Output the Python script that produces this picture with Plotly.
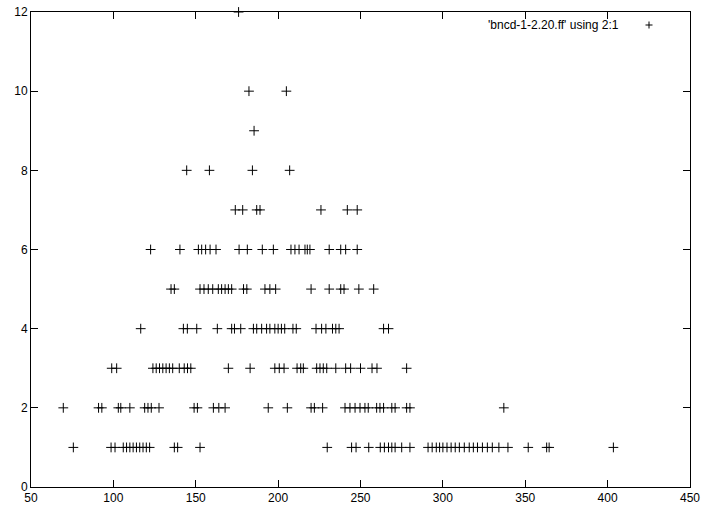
import plotly.graph_objects as go

# x values (column 2) grouped by y value (column 1)
x_at_1 = [75.7, 98.6, 101, 106, 108, 110, 112, 114, 116, 118, 120, 122, 137, 139, 152.6,
          229.8, 244.6, 247.3, 255, 262, 264.5, 267, 269, 271, 275, 280,
          291, 293.5, 296, 298, 300, 302.5, 305, 307.5, 310, 313, 316, 318.5, 321, 324,
          327, 330, 334, 339.5, 351.8, 363, 364.5, 403.5]
x_at_2 = [69.6, 91, 93, 103, 104.5, 110, 119, 121, 123, 127.7, 149, 151, 160.7, 164, 167.8,
          194, 205.6, 220, 222, 227, 240.6, 243.6, 246.7, 249.7, 252.7, 254.7, 259.8, 261.8,
          264, 269, 271, 278, 280, 337]
x_at_3 = [99, 102, 124, 126, 128, 130, 132, 134, 136, 140, 143, 145, 147, 169.8, 183,
          198, 200.7, 203.6, 211.5, 213.7, 215.3, 223.4, 225.4, 227.4, 229.5, 235, 241,
          244, 250, 257, 260, 278]
x_at_4 = [116.6, 142.5, 144.9, 150.6, 163.1, 171.8, 173.5, 177.3, 185, 187, 190, 193, 195,
          198, 200, 202, 204, 209, 211, 223, 226.4, 229, 233, 235, 237, 264, 267]
x_at_5 = [135, 137, 152.6, 155, 157.6, 160.3, 163.7, 165.7, 167.8, 169.8, 171.8, 179, 181,
          192, 195, 198.5, 220, 231, 238, 240, 249, 258]
x_at_6 = [122.6, 140.4, 151.6, 153.6, 156, 158.7, 162.3, 176.3, 181.3, 190.4, 197.1, 207.8,
          210.2, 212.7, 216.3, 217.7, 219.3, 231, 238, 241, 248]
x_at_7 = [174, 178.5, 187, 189, 226, 242, 248]
x_at_8 = [144.5, 158.3, 184.4, 207]
x_at_9 = [185.4]
x_at_10 = [182.3, 205]
x_at_12 = [176]

groups = {1: x_at_1, 2: x_at_2, 3: x_at_3, 4: x_at_4, 5: x_at_5, 6: x_at_6,
          7: x_at_7, 8: x_at_8, 9: x_at_9, 10: x_at_10, 12: x_at_12}

xs, ys = [], []
for yv, xl in groups.items():
    for xv in xl:
        xs.append(xv)
        ys.append(yv)

x_ticks = [50, 100, 150, 200, 250, 300, 350, 400, 450]
y_ticks = [0, 2, 4, 6, 8, 10, 12]
legend_label = "'bncd-1-2.20.ff' using 2:1"

fig = go.Figure()
fig.add_trace(go.Scatter(
    x=xs, y=ys, mode="markers", cliponaxis=False, showlegend=False,
    marker=dict(symbol="cross-thin", size=7, color="black",
                line=dict(width=1, color="black")),
))

L, R, T, B = 31, 12, 12, 20
W, H = 702, 507
pw, ph = W - L - R, H - T - B

# legend text + sample, gnuplot style
lx = (649 - L) / pw
ly = (H - B - 25) / ph
fig.add_annotation(x=(621 - L) / pw, y=ly, xref="paper", yref="paper",
                   text=legend_label, showarrow=False, xanchor="right", yanchor="middle",
                   font=dict(family="Liberation Sans, Arial", size=12, color="black"))
fig.add_shape(type="line", xref="paper", yref="paper", xsizemode="pixel", ysizemode="pixel",
              xanchor=lx, yanchor=ly, x0=-3.5, x1=3.5, y0=0, y1=0,
              line=dict(color="black", width=1))
fig.add_shape(type="line", xref="paper", yref="paper", xsizemode="pixel", ysizemode="pixel",
              xanchor=lx, yanchor=ly, x0=0, x1=0, y0=-3.5, y1=3.5,
              line=dict(color="black", width=1))

axis_common = dict(showgrid=False, zeroline=False, showline=True, linecolor="black",
                   linewidth=1, mirror="allticks", ticks="inside", ticklen=7,
                   tickcolor="black", tickwidth=1, automargin=False,
                   tickfont=dict(family="Liberation Sans, Arial", size=12, color="black"))

fig.update_layout(
    width=W, height=H,
    margin=dict(l=L, r=R, t=T, b=B, pad=0, autoexpand=False),
    paper_bgcolor="white", plot_bgcolor="white",
    xaxis=dict(range=[50, 450], tickvals=x_ticks, ticktext=[str(v) for v in x_ticks],
               **axis_common),
    yaxis=dict(range=[0, 12], tickvals=y_ticks, ticktext=[str(v) for v in y_ticks],
               **axis_common),
)

fig.write_html("out.html")
